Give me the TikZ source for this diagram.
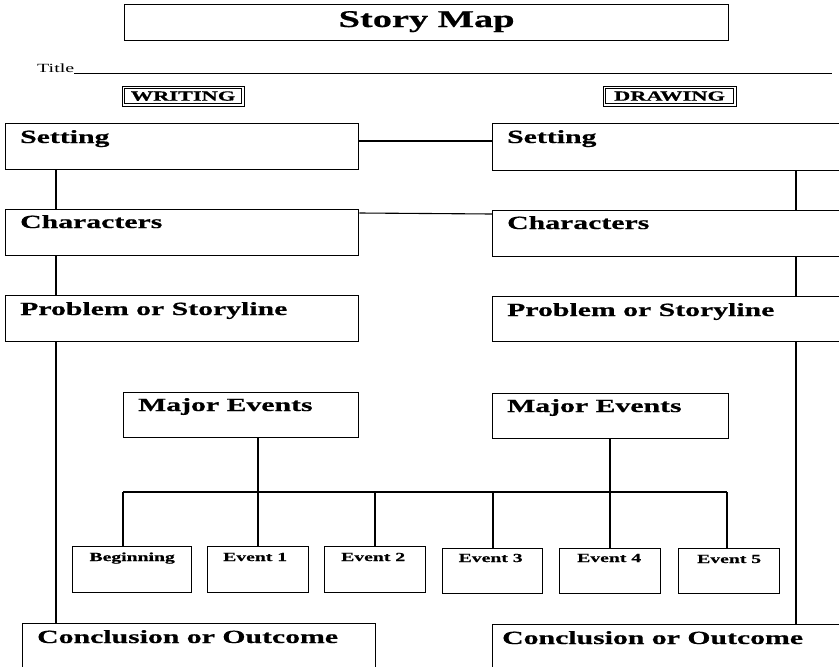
\documentclass[tikz,border=0pt]{standalone}
\usepackage{fontspec}
\setmainfont{Liberation Serif}
\newfontfamily\wideserif[FakeStretch=1.6, BoldFeatures={FakeBold=0.6}]{Liberation Serif}
\usetikzlibrary{calc}
\begin{document}
\begin{tikzpicture}[x=1pt,y=-1pt,
  box/.style={draw, line width=1.3pt, anchor=north west, inner sep=0pt},
  hdr/.style={anchor=base west, inner sep=0pt, font=\wideserif\bfseries\fontsize{18.6}{20}\selectfont},
  evt/.style={anchor=base, inner sep=0pt, font=\wideserif\bfseries\fontsize{12.3}{14}\selectfont},
  tag/.style={draw, line width=1pt, inner sep=0pt, text depth=0pt,
     font=\wideserif\bfseries\fontsize{14}{15}\selectfont},
  inner/.style={line width=0.9pt},
  wire/.style={line width=1.1pt}]
\clip (0,0) rectangle (839,667);
\fill[white] (0,0) rectangle (839,667);

% header
\node[box, minimum width=604pt, minimum height=36pt] (story) at (124,4) {};
\node[anchor=base, inner sep=0pt, font=\wideserif\bfseries\fontsize{24}{26}\selectfont] (storyt) at ($(story.north)+(0,23)$) {Story Map};
\node[anchor=base west, inner sep=0pt, font=\wideserif\fontsize{12.5}{14}\selectfont] (titlet) at (37,72) {Title};
\coordinate (tend) at (832,73);
\draw[line width=0.8pt] (titlet.base east) ++(0,1) -- (tend);
\node[tag, minimum width=122pt, minimum height=20pt] (wr) at (183,96) {WRITING};
\node[tag, minimum width=133pt, minimum height=20pt] (dr) at (669.5,96) {DRAWING};
\draw[inner] ($(wr.north west)+(2.8,2.8)$) rectangle ($(wr.south east)+(-2.8,-2.8)$);
\draw[inner] ($(dr.north west)+(2.8,2.8)$) rectangle ($(dr.south east)+(-2.8,-2.8)$);

% left column
\node[box, minimum width=353pt, minimum height=46pt] (sL) at (5,123) {};
\node[box, minimum width=353pt, minimum height=46pt] (cL) at (5,209) {};
\node[box, minimum width=353pt, minimum height=46pt] (pL) at (5,295) {};
\node[box, minimum width=235pt, minimum height=45pt] (mL) at (123,392) {};
\node[box, minimum width=353pt, minimum height=70pt] (oL) at (22,623) {};
% right column
\node[box, minimum width=400pt, minimum height=47pt] (sR) at (492,123) {};
\node[box, minimum width=400pt, minimum height=46pt] (cR) at (492,210) {};
\node[box, minimum width=400pt, minimum height=45pt] (pR) at (492,296) {};
\node[box, minimum width=236pt, minimum height=45pt] (mR) at (492,393) {};
\node[box, minimum width=400pt, minimum height=70pt] (oR) at (492,624) {};

% labels
\node[hdr] (sLt) at ($(sL.north west)+(15,20)$) {Setting};
\node[hdr] (cLt) at ($(cL.north west)+(15,19)$) {Characters};
\node[hdr] (pLt) at ($(pL.north west)+(15,20)$) {Problem or Storyline};
\node[hdr] (mLt) at ($(mL.north west)+(15,19)$) {Major Events};
\node[hdr] (oLt) at ($(oL.north west)+(15,20)$) {Conclusion or Outcome};
\node[hdr] (sRt) at ($(sR.north west)+(15,20)$) {Setting};
\node[hdr] (cRt) at ($(cR.north west)+(15,19)$) {Characters};
\node[hdr] (pRt) at ($(pR.north west)+(15,20)$) {Problem or Storyline};
\node[hdr] (mRt) at ($(mR.north west)+(15,19)$) {Major Events};
\node[hdr] (oRt) at ($(oR.north west)+(10,20)$) {Conclusion or Outcome};

% event boxes
\node[box, minimum width=119pt, minimum height=46pt] (e0) at (72,546) {};
\node[box, minimum width=101pt, minimum height=46pt] (e1) at (207,546) {};
\node[box, minimum width=101pt, minimum height=46pt] (e2) at (324,546) {};
\node[box, minimum width=100pt, minimum height=45pt] (e3) at (442,548) {};
\node[box, minimum width=101pt, minimum height=45pt] (e4) at (559,548) {};
\node[box, minimum width=101pt, minimum height=45pt] (e5) at (678,548) {};
\node[evt] (e0t) at ($(e0.north)+(0,15)$) {Beginning};
\node[evt] (e1t) at ($(e1.north)+(-3,15)$) {Event 1};
\node[evt] (e2t) at ($(e2.north)+(-2,15)$) {Event 2};
\node[evt] (e3t) at ($(e3.north)+(-2,14)$) {Event 3};
\node[evt] (e4t) at ($(e4.north)+(-1,14)$) {Event 4};
\node[evt] (e5t) at ($(e5.north)+(0,15)$) {Event 5};

% connectors between columns
\draw[wire] ($(sL.north east)+(0,18)$) -- ($(sR.north west)+(0,18)$);
\draw[wire] ($(cL.north east)+(0,4)$) -- ($(cR.north west)+(0,4)$);

% left trunk
\coordinate (lx) at (56,0);
\draw[wire] (sL.south -| lx) -- (cL.north -| lx);
\draw[wire] (cL.south -| lx) -- (pL.north -| lx);
\draw[wire] (pL.south -| lx) -- (oL.north -| lx);
\draw[wire] ($(mL.north west)+(0,17)$) -- ($(mL.north west)+(0,17)$ -| lx);

% right trunk
\coordinate (rx) at (796,0);
\draw[wire] (sR.south -| rx) -- (cR.north -| rx);
\draw[wire] (cR.south -| rx) -- (pR.north -| rx);
\draw[wire] (pR.south -| rx) -- (oR.north -| rx);
\draw[wire] ($(mR.north east)+(0,18)$) -- ($(mR.north east)+(0,18)$ -| rx);

% event bus
\coordinate (bus0) at (123,492);
\coordinate (bus5) at (727,492);
\draw[wire] (bus0) -- (bus5);
\draw[wire] (bus0) -- (bus0 |- e0.north);
\draw[wire] (mL.south -| 258,0) -- (e1.north -| 258,0);
\draw[wire] (375,492) -- (e2.north -| 375,0);
\draw[wire] (493,492) -- (e3.north -| 493,0);
\draw[wire] (mR.south -| 610,0) -- (e4.north -| 610,0);
\draw[wire] (bus5) -- (bus5 |- e5.north);
\end{tikzpicture}
\end{document}
